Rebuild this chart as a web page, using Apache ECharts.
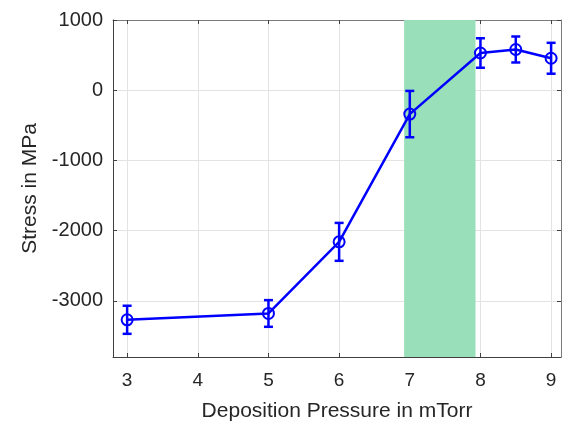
<!DOCTYPE html>
<html>
<head>
<meta charset="utf-8">
<script src="https://cdn.jsdelivr.net/npm/echarts@6/dist/echarts.min.js"></script>
<style>
  html, body { margin: 0; padding: 0; background: #fff; }
  #chart { width: 564px; height: 422px; }
</style>
</head>
<body>
<div id="chart"></div>
<script>
// measured values
const pressure = [3, 5, 6, 7, 8, 8.5, 9];
const stress = [-3270, -3180, -2160, -340, 530, 580, 455];
const stressErr = [200, 190, 270, 330, 210, 185, 220];
const xTicks = [3, 4, 5, 6, 7, 8, 9];
const yTicks = [-3000, -2000, -1000, 0, 1000];
const bandRange = [6.92, 7.93];

const fontFamily = 'Liberation Sans, Arial, sans-serif';
const textColor = '#262626';
const blue = '#0000ff';

const chart = echarts.init(document.getElementById('chart'));

const lineData = pressure.map((p, i) => [p, stress[i]]);
const errData = pressure.map((p, i) => [p, stress[i] - stressErr[i], stress[i] + stressErr[i]]);

const option = {
  animation: false,
  grid: { left: 113, right: 3, top: 20, bottom: 65, outerBoundsMode: 'none', containLabel: false },
  xAxis: [
    {
      type: 'value',
      min: 2.8,
      max: 9.14,
      name: 'Deposition Pressure in mTorr',
      nameLocation: 'middle',
      nameGap: 44,
      nameTextStyle: { fontFamily, fontSize: 21, color: textColor },
      axisLine: { onZero: false, lineStyle: { color: '#404040', width: 1 } },
      axisTick: { inside: true, length: 4, customValues: xTicks, lineStyle: { color: '#404040' } },
      axisLabel: { customValues: xTicks, fontFamily, fontSize: 19, color: textColor, margin: 14 },
      splitLine: { show: true, lineStyle: { color: '#e3e3e3', width: 1 } },
    },
    {
      type: 'value',
      position: 'top',
      min: 2.8,
      max: 9.14,
      axisLine: { show: true, onZero: false, lineStyle: { color: '#7a7a7a', width: 1 } },
      axisTick: { inside: true, length: 4, customValues: xTicks, lineStyle: { color: '#404040' } },
      axisLabel: { show: false },
      splitLine: { show: false },
    },
  ],
  yAxis: [
    {
      type: 'value',
      min: -3800,
      max: 1000,
      name: 'Stress in MPa',
      nameLocation: 'middle',
      nameGap: 72,
      nameTextStyle: { fontFamily, fontSize: 21, color: textColor },
      axisLine: { show: true, onZero: false, lineStyle: { color: '#404040', width: 1 } },
      axisTick: { show: true, inside: true, length: 4, customValues: yTicks, lineStyle: { color: '#404040' } },
      axisLabel: { customValues: yTicks, formatter: (v) => String(v), fontFamily, fontSize: 20, color: textColor, margin: 10 },
      splitLine: { show: true, lineStyle: { color: '#e3e3e3', width: 1 } },
    },
    {
      type: 'value',
      position: 'right',
      min: -3800,
      max: 1000,
      axisLine: { show: true, onZero: false, lineStyle: { color: '#7a7a7a', width: 1 } },
      axisTick: { show: true, inside: true, length: 4, customValues: yTicks, lineStyle: { color: '#404040' } },
      axisLabel: { show: false },
      splitLine: { show: false },
    },
  ],
  series: [
    {
      // shaded pressure window
      type: 'line',
      data: [],
      silent: true,
      markArea: {
        silent: true,
        itemStyle: { color: 'rgb(152,223,186)' },
        data: [[{ xAxis: bandRange[0] }, { xAxis: bandRange[1] }]],
      },
      z: 1,
    },
    {
      type: 'line',
      data: lineData,
      symbol: 'circle',
      symbolSize: 11,
      showSymbol: true,
      itemStyle: { color: 'rgba(0,0,0,0)', borderColor: blue, borderWidth: 2 },
      lineStyle: { color: blue, width: 2.5 },
      z: 3,
    },
    {
      type: 'custom',
      data: errData,
      renderItem: (params, api) => {
        const x = api.value(0);
        const lo = api.coord([x, api.value(1)]);
        const hi = api.coord([x, api.value(2)]);
        const cap = 4.5;
        const style = { stroke: blue, lineWidth: 2.5 };
        return {
          type: 'group',
          children: [
            { type: 'line', shape: { x1: lo[0], y1: lo[1], x2: hi[0], y2: hi[1] }, style },
            { type: 'line', shape: { x1: lo[0] - cap, y1: lo[1], x2: lo[0] + cap, y2: lo[1] }, style },
            { type: 'line', shape: { x1: hi[0] - cap, y1: hi[1], x2: hi[0] + cap, y2: hi[1] }, style },
          ],
        };
      },
      z: 4,
    },
  ],
};

chart.setOption(option);
</script>
</body>
</html>
